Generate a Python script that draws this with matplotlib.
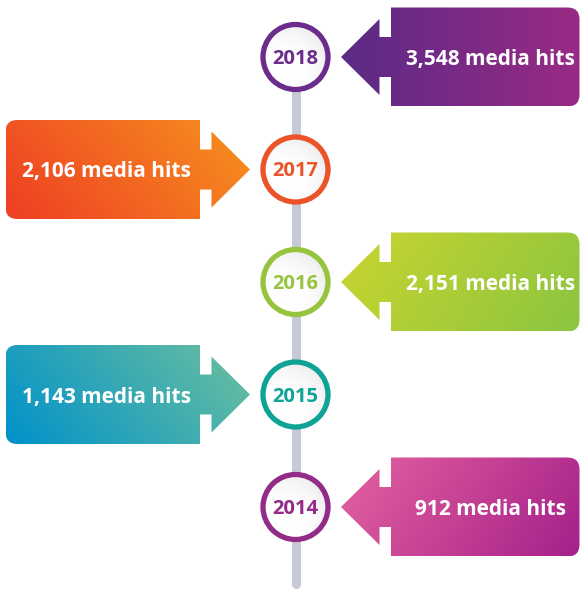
import matplotlib.pyplot as plt
import numpy as np
from matplotlib.path import Path
from matplotlib.patches import PathPatch, Circle
from matplotlib.colors import to_rgb

# timeline data, top to bottom
years = ['2018', '2017', '2016', '2015', '2014']
hits = [3548, 2106, 2151, 1143, 912]
sides = ['right', 'left', 'right', 'left', 'right']
ring_colors = ['#6B2C8B', '#EA5428', '#97C43D', '#0FA396', '#922C88']
grad_start = ['#5A2B86', '#EE3E24', '#CAD52F', '#0092CA', '#E4639F']
grad_end = ['#992A84', '#F7931E', '#8BC540', '#6EC09E', '#A5208A']
grad_angle = [0, -40, 35, -40, 35]   # direction start->end, screen degrees (y down)

W, H = 580, 589
cx = 295.5
top_y = 57
step = 112.5
font = ['Open Sans', 'DejaVu Sans']

fig = plt.figure(figsize=(W / 100, H / 100), dpi=100)
ax = fig.add_axes([0, 0, 1, 1])
ax.axis('off')


def callout_path(cy, side):
    tip_off, head, stem = 45.5, 38.5, 11.5
    hh, sh, bh, r = 38, 20, 49.5, 12
    if side == 'right':
        s = 1
        far = 579.5
        tip = cx + tip_off
    else:
        s = -1
        far = 5.5
        tip = cx - tip_off
    b = tip + s * head
    bx = b + s * stem
    verts = [(tip, cy), (b, cy - hh), (b, cy - sh), (bx, cy - sh), (bx, cy - bh),
             (far - s * r, cy - bh), (far, cy - bh), (far, cy - bh + r),
             (far, cy + bh - r), (far, cy + bh), (far - s * r, cy + bh),
             (bx, cy + bh), (bx, cy + sh), (b, cy + sh), (b, cy + hh), (tip, cy)]
    codes = [Path.MOVETO, Path.LINETO, Path.LINETO, Path.LINETO, Path.LINETO,
             Path.LINETO, Path.CURVE3, Path.CURVE3,
             Path.LINETO, Path.CURVE3, Path.CURVE3,
             Path.LINETO, Path.LINETO, Path.LINETO, Path.LINETO, Path.CLOSEPOLY]
    return Path(verts, codes), min(tip, far), max(tip, far), cy - bh, cy + bh


def gradient_fill(patch, x0, x1, y0, y1, c0, c1, angle, zorder):
    nx, ny = 200, 100
    xs = np.linspace(0, 1, nx) * (x1 - x0)
    ys = np.linspace(0, 1, ny) * (y1 - y0)
    X, Y = np.meshgrid(xs, ys)
    a = np.deg2rad(angle)
    proj = X * np.cos(a) + Y * np.sin(a)
    t = (proj - proj.min()) / (proj.max() - proj.min())
    c0 = np.array(to_rgb(c0))
    c1 = np.array(to_rgb(c1))
    img = c0[None, None, :] * (1 - t[..., None]) + c1[None, None, :] * t[..., None]
    im = ax.imshow(img, extent=(x0, x1, y1, y0), origin='upper',
                   interpolation='bilinear', zorder=zorder, aspect='auto')
    im.set_clip_path(patch)


# timeline bar
ax.plot([cx, cx], [top_y, 584], color='#C6CAD4', lw=6.5,
        solid_capstyle='round', zorder=1)

for i, yr in enumerate(years):
    cy = top_y + i * step
    path, x0, x1, y0, y1 = callout_path(cy, sides[i])
    patch = PathPatch(path, facecolor='none', edgecolor='none', zorder=2)
    ax.add_patch(patch)
    gradient_fill(patch, x0, x1, y0, y1, grad_start[i], grad_end[i],
                  grad_angle[i], 2)
    box_mid = (x0 + x1) / 2 + (30 if sides[i] == 'right' else -21)
    ax.text(box_mid, cy + 2.5, f'{hits[i]:,} media hits', color='white',
            fontsize=15, fontweight='bold', family=font,
            ha='center', va='center', zorder=4)

    # year circle with soft shading
    base = Circle((cx, cy), 33, facecolor='white', edgecolor='none', zorder=3)
    ax.add_patch(base)
    n = 80
    g = np.linspace(-1, 1, n)
    GX, GY = np.meshgrid(g, g)
    d = np.clip(np.hypot(GX + 0.45, GY - 0.45) / 1.9, 0, 1)
    shade = 1 - 0.13 * d ** 3
    img = np.dstack([shade, shade, shade])
    im = ax.imshow(img, extent=(cx - 33, cx + 33, cy + 33, cy - 33),
                   origin='upper', interpolation='bilinear', zorder=3,
                   aspect='auto')
    im.set_clip_path(base)
    ring = Circle((cx, cy), 32.5, facecolor='none', edgecolor=ring_colors[i],
                  lw=3.8, zorder=3.5)
    ax.add_patch(ring)
    ax.text(cx, cy + 2, yr, color=ring_colors[i], fontsize=14.5,
            fontweight='bold', family=font,
            ha='center', va='center', zorder=4)

ax.set_xlim(0, W)
ax.set_ylim(H, 0)
fig.savefig('out.png', dpi=100)
